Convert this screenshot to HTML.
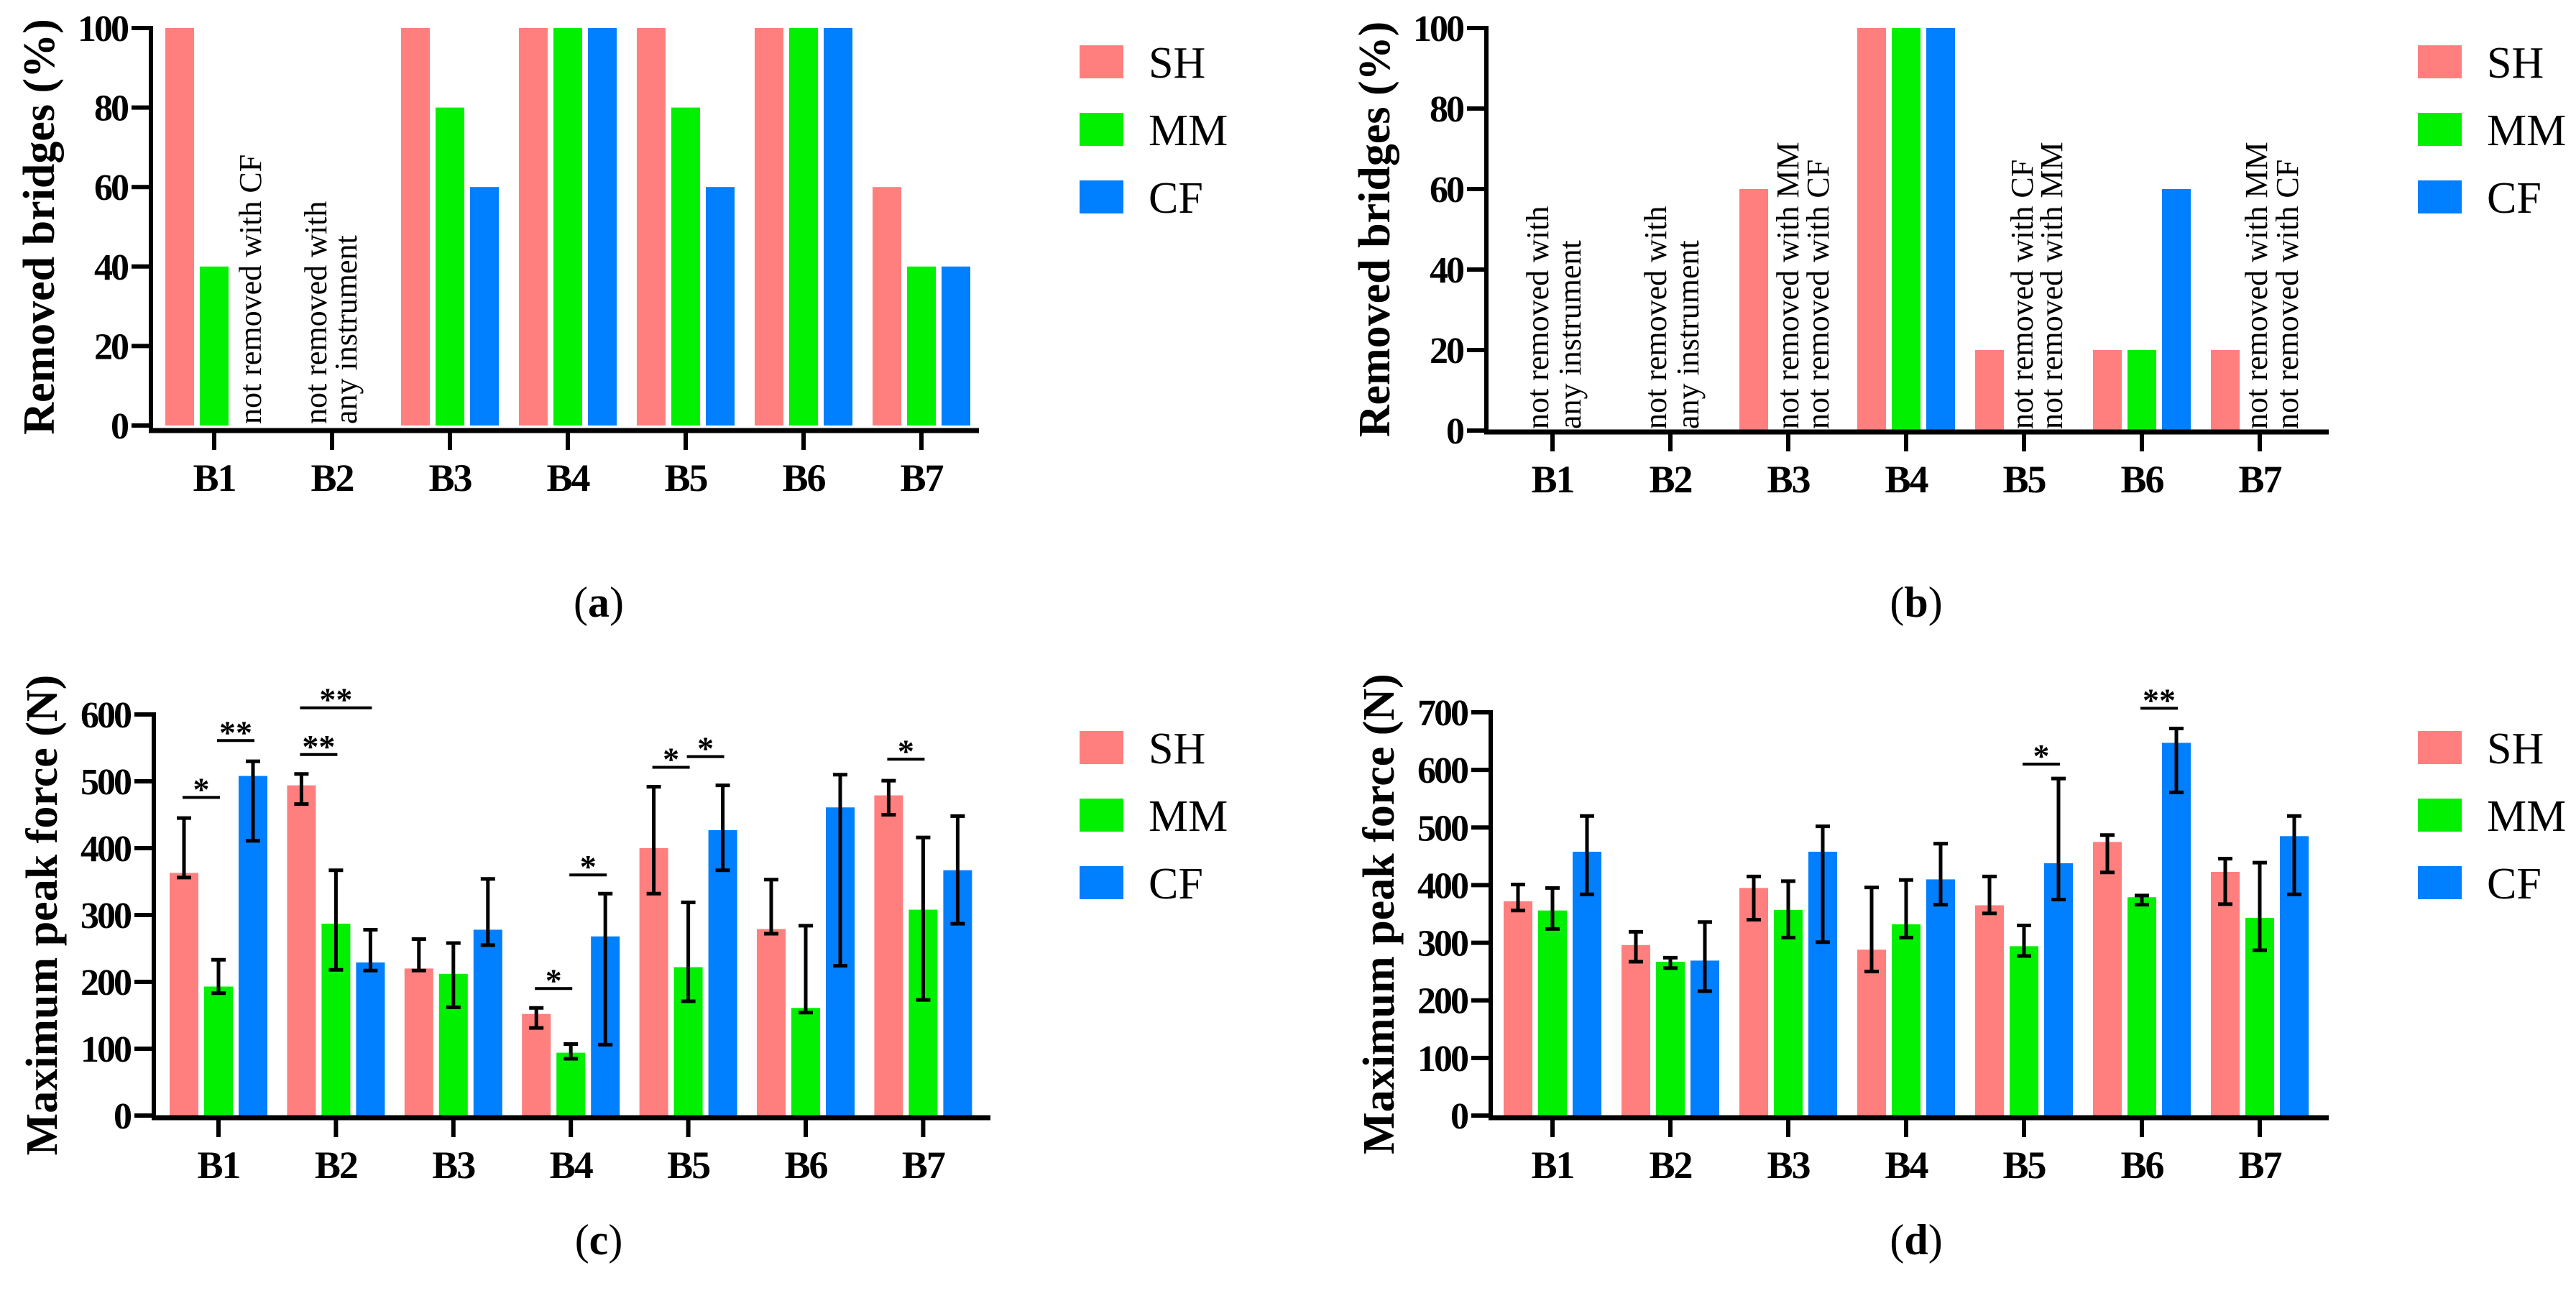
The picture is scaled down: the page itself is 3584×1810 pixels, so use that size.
<!DOCTYPE html>
<html><head><meta charset="utf-8">
<style>
html,body{margin:0;padding:0;background:#fff;}
svg{display:block;}
text{font-family:"Liberation Serif",serif;}
</style></head>
<body>
<svg id="fig" width="3584" height="1810" viewBox="0 0 3584 1810" xmlns="http://www.w3.org/2000/svg" font-family="Liberation Serif, serif">
<rect width="3584" height="1810" fill="#fff"/>
</svg>
<script>
// ---- data ----
const categories = ['B1','B2','B3','B4','B5','B6','B7'];
const seriesNames = ['SH','MM','CF'];
// panel a (removed bridges %)
const aSH = [100, null, 100, 100, 100, 100, 60];
const aMM = [40, null, 80, 100, 80, 100, 40];
const aCF = [null, null, 60, 100, 60, 100, 40];
// panel b
const bSH = [null, null, 60, 100, 20, 20, 20];
const bMM = [null, null, null, 100, null, 20, null];
const bCF = [null, null, null, 100, null, 60, null];
const pctTicks = [0, 20, 40, 60, 80, 100];
// panel c (max peak force N)
const cSH = [363, 494, 220, 152, 400, 279, 479];
const cSHlo = [356, 466, 217, 131, 332, 272, 450];
const cSHhi = [445, 511, 264, 161, 492, 353, 501];
const cMM = [193, 287, 212, 94, 222, 161, 308];
const cMMlo = [183, 218, 162, 85, 171, 154, 173];
const cMMhi = [233, 367, 258, 107, 319, 284, 416];
const cCF = [508, 229, 278, 268, 427, 461, 367];
const cCFlo = [411, 217, 255, 106, 367, 224, 287];
const cCFhi = [530, 278, 354, 332, 494, 510, 448];
const cTicks = [0, 100, 200, 300, 400, 500, 600];
const cSigGroup = [0, 0, 1, 1, 3, 3, 4, 4, 6];
const cSigFrom = [0, 1, 0, 0, 0, 1, 0, 1, 0];
const cSigTo = [1, 2, 1, 2, 1, 2, 1, 2, 1];
const cSigY = [476, 561, 540, 610, 190, 360, 521, 537, 533];
const cSigLabel = ['*', '**', '**', '**', '*', '*', '*', '*', '*'];
// panel d
const dSH = [372, 296, 395, 288, 365, 475, 423];
const dSHlo = [356, 267, 340, 250, 351, 422, 367];
const dSHhi = [401, 319, 415, 396, 415, 487, 446];
const dMM = [356, 267, 357, 332, 294, 379, 343];
const dMMlo = [324, 256, 309, 309, 277, 366, 287];
const dMMhi = [395, 274, 407, 409, 330, 382, 439];
const dCF = [458, 269, 458, 410, 438, 647, 485];
const dCFlo = [384, 216, 301, 366, 375, 561, 384];
const dCFhi = [520, 336, 502, 472, 585, 672, 520];
const dTicks = [0, 100, 200, 300, 400, 500, 600, 700];
const dSigGroup = [4, 5];
const dSigFrom = [1, 1];
const dSigTo = [2, 2];
const dSigY = [610, 707];
const dSigLabel = ['*', '**'];

// ---- rendering ----
const NS = 'http://www.w3.org/2000/svg';
const svg = document.getElementById('fig');
const colors = ['#FF7F7F', '#00F000', '#007FFF'];
function mk(tag, attrs, parent) {
  const e = document.createElementNS(NS, tag);
  for (const k in attrs) e.setAttribute(k, attrs[k]);
  if (tag === 'text') e.setAttribute('font-family', 'Liberation Serif, serif');
  (parent || svg).appendChild(e);
  return e;
}

function panel(cfg) {
  const g = mk('g', {});
  
  
  const yS = v => cfg.y0 - (v / cfg.ymax) * (cfg.y0 - cfg.ytop);
  const xC = i => cfg.firstTick + i * cfg.pitch;
  const xBar = (i, s) => xC(i) + (s - 1) * 48;
  const BW = 40;
  cfg.series.forEach((arr, s) => {
    arr.forEach((v, i) => {
      if (v === null) return;
      const r = mk('rect', {x: xBar(i, s) - BW / 2, y: yS(v), width: BW, height: cfg.y0 - yS(v), fill: colors[s]}, g);
      
      
    });
  });
  if (cfg.lo) {
    cfg.lo.forEach((loArr, s) => {
      loArr.forEach((lo, i) => {
        const hi = cfg.hi[s][i];
        const x = xBar(i, s);
        const eg = mk('g', {stroke: '#000', 'stroke-width': 5}, g);
        
        
        mk('line', {x1: x, x2: x, y1: yS(lo), y2: yS(hi)}, eg);
        mk('line', {x1: x - 10, x2: x + 10, y1: yS(lo), y2: yS(lo)}, eg);
        mk('line', {x1: x - 10, x2: x + 10, y1: yS(hi), y2: yS(hi)}, eg);
      });
    });
  }
  if (cfg.sig) {
    cfg.sig.group.forEach((gi, k) => {
      const x1 = xBar(gi, cfg.sig.from[k]), x2 = xBar(gi, cfg.sig.to[k]);
      const y = yS(cfg.sig.y[k]);
      const sg = mk('g', {}, g);
      
      
      mk('line', {x1: x1 - 2, x2: x2 + 2, y1: y, y2: y, stroke: '#000', 'stroke-width': 4}, sg);
      const t = mk('text', {x: (x1 + x2) / 2, y: y + 4, 'text-anchor': 'middle', 'font-size': 46, 'font-weight': 'bold'}, sg);
      t.textContent = cfg.sig.label[k];
    });
  }
  const ya = mk('g', {}, g);
  
  
  mk('line', {x1: cfg.axisX, x2: cfg.axisX, y1: yS(cfg.ymax) - 3, y2: cfg.xAxisY + 3, stroke: '#000', 'stroke-width': 6}, ya);
  cfg.ticks.forEach(v => {
    mk('line', {x1: cfg.axisX - 27, x2: cfg.axisX, y1: yS(v), y2: yS(v), stroke: '#000', 'stroke-width': 6}, ya);
    const t = mk('text', {x: cfg.axisX - 33, y: yS(v) + 18, 'text-anchor': 'end', 'font-size': 52, 'font-weight': 'bold', 'letter-spacing': '-3'}, ya);
    t.textContent = v;
  });
  const yt = mk('text', {x: 0, y: 0, 'text-anchor': 'middle', 'font-size': 62, 'font-weight': 'bold', transform: `translate(${cfg.axisX - 135},${(cfg.y0 + cfg.ytop) / 2}) rotate(-90)`}, ya);
  
  
  yt.textContent = cfg.ytitle;
  const xa = mk('g', {}, g);
  
  
  mk('line', {x1: cfg.axisX - 3, x2: cfg.xEnd, y1: cfg.xAxisY, y2: cfg.xAxisY, stroke: '#000', 'stroke-width': 7}, xa);
  categories.forEach((c, i) => {
    mk('line', {x1: xC(i), x2: xC(i), y1: cfg.xAxisY, y2: cfg.xAxisY + 27, stroke: '#000', 'stroke-width': 6}, xa);
    const t = mk('text', {x: xC(i), y: cfg.xAxisY + 84, 'text-anchor': 'middle', 'font-size': 54, 'font-weight': 'bold', 'letter-spacing': '-2'}, xa);
    
    
    t.textContent = c;
  });
  (cfg.notes || []).forEach(n => {
    n.lines.forEach((line, j) => {
      const x = xC(n.group) + n.offsets[j];
      const t = mk('text', {x: 0, y: 0, 'font-size': 44, transform: `translate(${x + 15},${cfg.y0 - 2}) rotate(-90)`}, g);
      
      
      t.textContent = line;
    });
  });
  const lg = mk('g', {}, g);
  
  
  seriesNames.forEach((s, k) => {
    const y = cfg.legY + k * 94;
    const eg = mk('g', {}, lg);
    
    
    mk('rect', {x: cfg.legX, y: y, width: 61, height: 46, fill: colors[k]}, eg);
    const t = mk('text', {x: cfg.legX + 96, y: y + 45, 'font-size': 62}, eg);
    t.textContent = s;
  });
  const pl = mk('text', {x: cfg.labX, y: cfg.labY, 'text-anchor': 'middle', 'font-size': 60}, g);
  
  
  pl.innerHTML = '(<tspan font-weight="bold">' + cfg.label + '</tspan>)';
}

panel({name: 'panel-a', axisX: 210, y0: 592, ytop: 39, ymax: 100, xAxisY: 599, firstTick: 298, pitch: 164, xEnd: 1362,
  series: [aSH, aMM, aCF], ticks: pctTicks, ytitle: 'Removed bridges (%)',
  notes: [{group: 0, offsets: [50], lines: ['not removed with CF']},
          {group: 1, offsets: [-23, 19], lines: ['not removed with', 'any instrument']}],
  legX: 1502, legY: 63, labX: 833, labY: 858, label: 'a'});

panel({name: 'panel-b', axisX: 2068, y0: 599, ytop: 39, ymax: 100, xAxisY: 601, firstTick: 2160, pitch: 164, xEnd: 3240,
  series: [bSH, bMM, bCF], ticks: pctTicks, ytitle: 'Removed bridges (%)',
  notes: [{group: 0, offsets: [-21, 24], lines: ['not removed with', 'any instrument']},
          {group: 1, offsets: [-21, 24], lines: ['not removed with', 'any instrument']},
          {group: 2, offsets: [-1, 41], lines: ['not removed with MM', 'not removed with CF']},
          {group: 4, offsets: [-3, 38], lines: ['not removed with CF', 'not removed with MM']},
          {group: 6, offsets: [-5, 38], lines: ['not removed with MM', 'not removed with CF']}],
  legX: 3364, legY: 63, labX: 2666, labY: 858, label: 'b'});

panel({name: 'panel-c', axisX: 214, y0: 1552, ytop: 994, ymax: 600, xAxisY: 1555, firstTick: 304, pitch: 163.4, xEnd: 1378,
  series: [cSH, cMM, cCF], lo: [cSHlo, cMMlo, cCFlo], hi: [cSHhi, cMMhi, cCFhi], ticks: cTicks,
  ytitle: 'Maximum peak force (N)',
  sig: {group: cSigGroup, from: cSigFrom, to: cSigTo, y: cSigY, label: cSigLabel},
  legX: 1502, legY: 1017, labX: 833, labY: 1745, label: 'c'});

panel({name: 'panel-d', axisX: 2074, y0: 1552, ytop: 991, ymax: 700, xAxisY: 1555, firstTick: 2160, pitch: 164, xEnd: 3240,
  series: [dSH, dMM, dCF], lo: [dSHlo, dMMlo, dCFlo], hi: [dSHhi, dMMhi, dCFhi], ticks: dTicks,
  ytitle: 'Maximum peak force (N)',
  sig: {group: dSigGroup, from: dSigFrom, to: dSigTo, y: dSigY, label: dSigLabel},
  legX: 3364, legY: 1017, labX: 2666, labY: 1745, label: 'd'});
</script>
</body></html>
